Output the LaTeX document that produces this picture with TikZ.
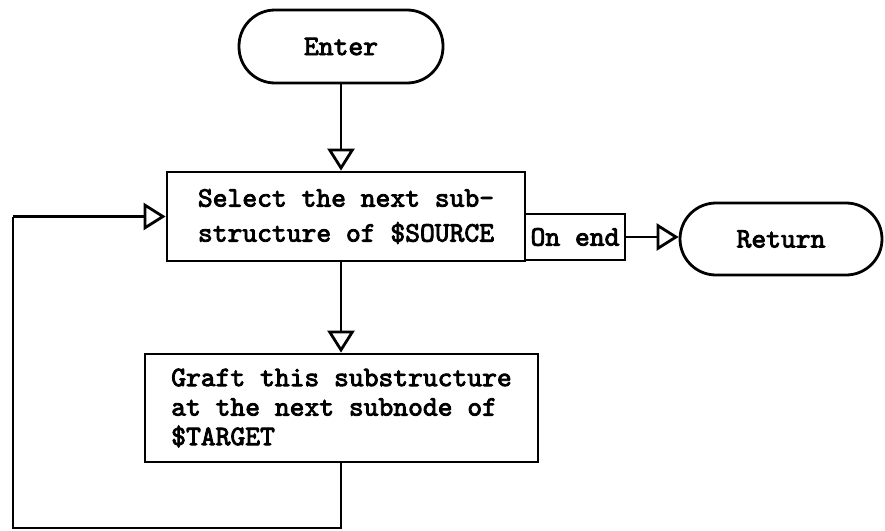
\documentclass[tikz,border=0pt]{standalone}
\usepackage{fontspec}
\newfontfamily\tyfont{lmmono10-regular}[Extension=.otf, FakeBold=3]
\usetikzlibrary{arrows.meta,positioning}
\tikzset{
  base/.style={draw, line width=2.8pt, inner sep=0pt, font=\tyfont\fontsize{28.2}{29.5}\selectfont},
  term/.style={base, rounded corners=36pt},
  proc/.style={base, rectangle, align=left},
  conn/.style={line width=2.8pt, -{Triangle[open, length=22pt, width=27pt, line width=2.8pt]}},
  plain/.style={line width=2.8pt}
}
\begin{document}
\begin{tikzpicture}[x=1pt, y=-1pt]
\useasboundingbox (0,0) rectangle (885,530);
\node[term, minimum width=204pt, minimum height=73pt] (enter) at (341,46.5) {Enter};
\node[proc, minimum width=358pt, minimum height=89pt,
      font=\tyfont\fontsize{28.2}{35}\selectfont] (select) at (346,216.5)
      {Select the next sub-\\structure of \$SOURCE};
\node[proc, minimum width=100pt, minimum height=46pt] (onend) at (575,237) {On end};
\node[term, minimum width=202pt, minimum height=72pt] (return) at (781,239) {Return};
\node[proc, minimum width=393pt, minimum height=108pt] (graft) at (341.5,408)
      {Graft this substructure\\at the next subnode of\\\$TARGET};
\coordinate (lb) at (13,528);
\draw[conn] (enter.south) -- (enter.south |- select.north);
\draw[conn] (enter.south |- select.south) -- (enter.south |- graft.north);
\draw[conn] (onend.east) -- (onend.east -| return.west);
\draw[plain] (enter.south |- graft.south) -- (enter.south |- lb) -- (lb) -- (lb |- select.west);
\draw[conn] (lb |- select.west) -- (select.west);
\end{tikzpicture}
\end{document}
